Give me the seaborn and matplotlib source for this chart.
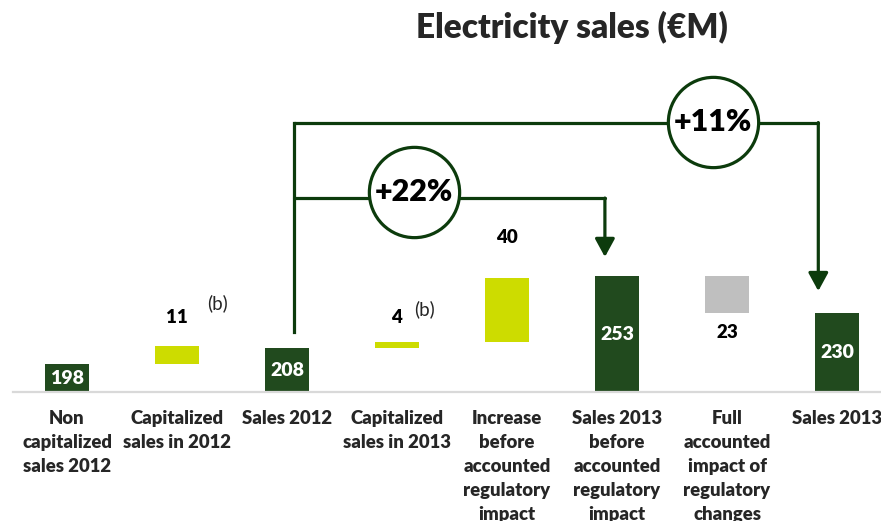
import numpy as np
import pandas as pd
import matplotlib
matplotlib.use('Agg')
import matplotlib.pyplot as plt
import seaborn as sns

# waterfall data (EUR M)
categories = ['Non\ncapitalized\nsales 2012', 'Capitalized\nsales in 2012', 'Sales 2012',
              'Capitalized\nsales in 2013', 'Increase\nbefore\naccounted\nregulatory\nimpact',
              'Sales 2013\nbefore\naccounted\nregulatory\nimpact',
              'Full\naccounted\nimpact of\nregulatory\nchanges', 'Sales 2013']
values = [198, 11, 208, 4, 40, 253, -23, 230]
kinds = ['total', 'up', 'total', 'up', 'up', 'total', 'down', 'total']
notes = ['', '(b)', '', '(b)', '', '', '', '']
growth_labels = ['+22%', '+11%']

DARK = '#214a1e'
LIME = '#cddc00'
GREY = '#bfbfbf'
ARROW = '#0c3b0c'
palette = {'total': DARK, 'up': LIME, 'down': GREY}

# running totals -> bar tops / bottoms
tops, bottoms = [], []
run = 0
for v, k in zip(values, kinds):
    if k == 'total':
        run = v
        tops.append(v)
        bottoms.append(0)
    elif k == 'up':
        bottoms.append(run)
        run = run + v
        tops.append(run)
    else:
        tops.append(run)
        run = run + v
        bottoms.append(run)

df = pd.DataFrame({'cat': categories, 'top': tops, 'bottom': bottoms, 'kind': kinds})

sns.set_style('white')
plt.rcParams['font.family'] = ['Lato', 'DejaVu Sans']
BOLD = 'heavy'

fig = plt.figure(figsize=(8.81, 5.21), dpi=100)
ax = fig.add_axes([13 / 881, 129 / 521, 868 / 881, 392 / 521])

sns.barplot(data=df, x='cat', y='top', hue='kind', palette=palette, dodge=False,
            saturation=1, width=0.4, linewidth=0, legend=False, ax=ax, zorder=1)
# white bars hide the part below a floating bar
sns.barplot(data=df, x='cat', y='bottom', color='white', saturation=1, width=0.42,
            linewidth=0, ax=ax, zorder=1.5)

ymin = 180.5
ax.set_ylim(ymin, ymin + 392 / 1.6)
ax.set_xlim(-0.491, 7.40)
ax.set_ylabel('')
ax.set_xlabel('')
ax.set_yticks([])
sns.despine(ax=ax, left=True, top=True, right=True)
ax.spines['bottom'].set_color('#d9d9d9')
ax.spines['bottom'].set_linewidth(1.6)
ax.tick_params(axis='x', length=0, pad=13)
ax.set_xticks(range(len(categories)))
ax.set_xticklabels(categories, fontsize=13.3, fontweight=BOLD, linespacing=1.5)

# value labels
out_off = {1: 18, 3: 15, 4: 25}
for i, (v, k, t, b) in enumerate(zip(values, kinds, tops, bottoms)):
    if k == 'total':
        ax.text(i, (ymin + t) / 2, str(v), ha='center', va='center', color='white',
                fontsize=14, fontweight=BOLD, zorder=6)
    elif k == 'up':
        ax.text(i, t + out_off[i], str(v), ha='center', va='center', color='black',
                fontsize=13.5, fontweight=BOLD, zorder=6)
    else:
        ax.text(i, b - 12.5, str(abs(v)), ha='center', va='center', color='black',
                fontsize=13.5, fontweight=BOLD, zorder=6)
    if notes[i]:
        ax.text(i + (0.37 if i == 1 else 0.25), t + (27 if i == 1 else 20), notes[i],
                ha='center', va='center', fontsize=13.5, zorder=6)

# growth brackets
lw = 2.3
xl = 2.065
y_out, y_in = 348.9, 301.7
ax.plot([xl, xl], [218, y_out], color=ARROW, lw=lw, zorder=3, solid_capstyle='projecting')
ax.plot([xl, 6.83], [y_out, y_out], color=ARROW, lw=lw, zorder=3)
ax.plot([xl, 4.89], [y_in, y_in], color=ARROW, lw=lw, zorder=3)
aprops = dict(arrowstyle='-|>,head_length=0.55,head_width=0.3', color=ARROW, lw=lw,
              mutation_scale=20, shrinkA=0, shrinkB=0)
ax.annotate('', xy=(4.89, 264.9), xytext=(4.89, y_in), arrowprops=aprops, zorder=3)
ax.annotate('', xy=(6.83, 243.6), xytext=(6.83, y_out), arrowprops=aprops, zorder=3)

circ_x = [3.15, 5.875]
circ_y = [305.5, 349.2]
ax.scatter(circ_x, circ_y, s=65 ** 2, facecolor='white', edgecolor=ARROW,
           linewidth=2.3, zorder=4, clip_on=False)
for cx, cy, lab in zip(circ_x, circ_y, growth_labels):
    ax.text(cx, cy, lab, ha='center', va='center', fontsize=22, fontweight=BOLD,
            color='black', zorder=5)

fig.text(572 / 881, 1 - 27 / 521, 'Electricity sales (€M)', ha='center', va='center',
         fontsize=24, fontweight=BOLD)

fig.savefig('out.png', dpi=100)
